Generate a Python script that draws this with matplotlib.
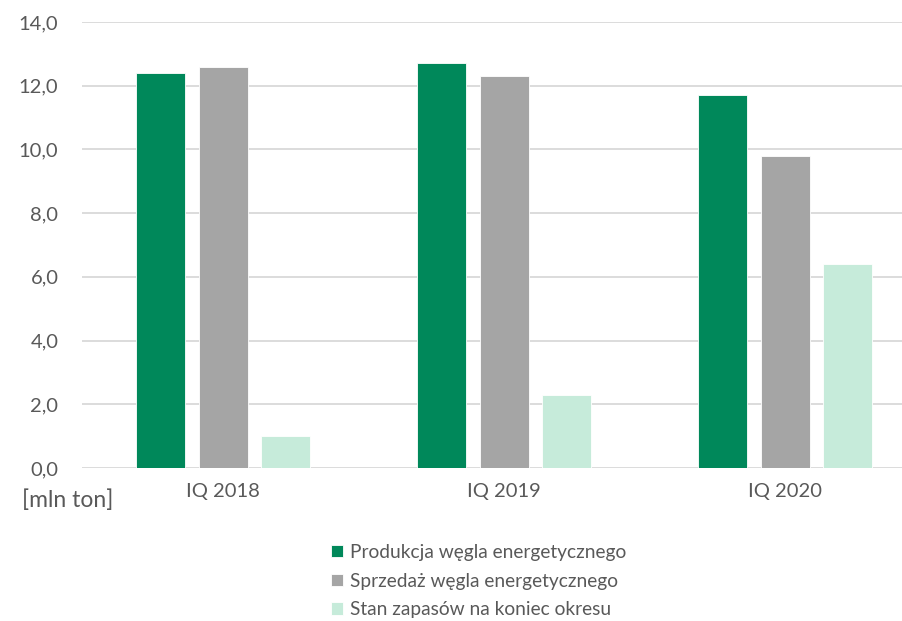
import matplotlib.pyplot as plt
import numpy as np

plt.rcParams['font.family'] = ['Lato', 'DejaVu Sans']

categories = ["IQ 2018", "IQ 2019", "IQ 2020"]
produkcja = [12.4, 12.7, 11.7]
sprzedaz = [12.6, 12.3, 9.8]
zapasy = [1.0, 2.3, 6.4]
series_names = ["Produkcja węgla energetycznego",
                "Sprzedaż węgla energetycznego",
                "Stan zapasów na koniec okresu"]
colors = ["#00885A", "#A5A5A5", "#C6EBDA"]
yticks = [0, 2, 4, 6, 8, 10, 12, 14]

txt = "#595959"

fig = plt.figure(figsize=(9.02, 6.21), dpi=100)
ax = fig.add_axes([82 / 902, 153 / 621, 1 - 82 / 902, 446 / 621])

x = np.arange(len(categories))
w = 0.174
step = 0.222
for i, (vals, name) in enumerate(zip([produkcja, sprzedaz, zapasy], series_names)):
    ax.bar(x + (i - 1) * step, vals, width=w, color=colors[i], label=name,
           edgecolor="white", linewidth=0.6, zorder=3)

ax.set_ylim(0, 14)
ax.set_xlim(-0.502, 2.416)
ax.set_yticks(yticks)
ax.set_yticklabels([f"{v:.1f}".replace(".", ",") for v in yticks])
ax.set_xticks(x)
ax.set_xticklabels(categories)
ax.yaxis.grid(True, color="#D9D9D9", linewidth=1.3, zorder=0)
ax.set_axisbelow(True)
for s in ax.spines.values():
    s.set_visible(False)
ax.tick_params(axis="both", length=0, labelsize=14.5, colors=txt)
ax.tick_params(axis="y", pad=17)
ax.tick_params(axis="x", pad=11)

fig.text(22 / 902, 1 - 500 / 621, "[mln ton]", fontsize=16.5, color=txt,
         va="center", ha="left")

leg = fig.legend(loc="upper left", bbox_to_anchor=(323 / 902, 1 - 536 / 621),
                 frameon=False, fontsize=13.8, handlelength=0.62, handleheight=0.62,
                 handletextpad=0.4, labelspacing=0.62, borderaxespad=0)
for t in leg.get_texts():
    t.set_color(txt)

fig.savefig("out.png", dpi=100)
